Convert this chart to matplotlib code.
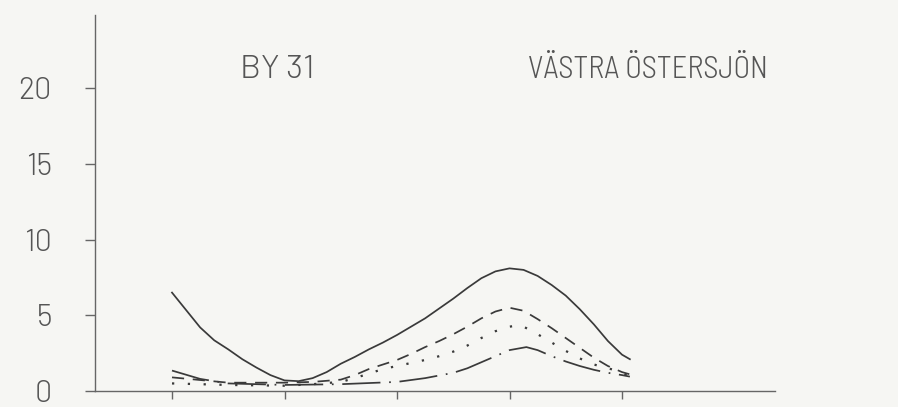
import matplotlib
matplotlib.use("Agg")
import matplotlib.pyplot as plt

# Data (x in tick units; tick marks at 0..4)
solid_x = [0, 0.125, 0.25, 0.375, 0.5, 0.625, 0.75, 0.875, 1.0, 1.125, 1.25, 1.375, 1.5, 1.625,
           1.75, 1.875, 2.0, 2.125, 2.25, 2.375, 2.5, 2.625, 2.75, 2.875, 3.0, 3.125, 3.25,
           3.375, 3.5, 3.625, 3.75, 3.875, 4.0, 4.07]
solid_y = [6.5, 5.35, 4.2, 3.35, 2.75, 2.1, 1.55, 1.05, 0.7, 0.65, 0.85, 1.25, 1.8, 2.25,
           2.75, 3.2, 3.7, 4.25, 4.8, 5.45, 6.1, 6.8, 7.45, 7.9, 8.1, 8.0, 7.6,
           7.0, 6.3, 5.4, 4.4, 3.3, 2.4, 2.1]

dashed_x = [0, 0.5, 1.0, 1.25, 1.5, 1.625, 1.75, 1.875, 2.0, 2.125, 2.25, 2.375, 2.5, 2.625,
            2.75, 2.875, 3.0, 3.125, 3.25, 3.375, 3.5, 3.625, 3.75, 3.875, 4.0, 4.07]
dashed_y = [0.9, 0.55, 0.55, 0.6, 0.75, 1.05, 1.45, 1.75, 2.05, 2.45, 2.9, 3.3, 3.75, 4.25,
            4.8, 5.25, 5.5, 5.3, 4.75, 4.15, 3.5, 2.85, 2.2, 1.65, 1.25, 1.1]

dotted_x = [0, 0.5, 1.0, 1.25, 1.5, 1.625, 1.75, 1.875, 2.0, 2.125, 2.25, 2.375, 2.5, 2.625,
            2.75, 2.875, 3.0, 3.1, 3.25, 3.375, 3.5, 3.625, 3.75, 3.875, 4.0, 4.07]
dotted_y = [0.5, 0.4, 0.35, 0.45, 0.6, 0.85, 1.15, 1.45, 1.65, 1.85, 2.05, 2.3, 2.6, 3.0,
            3.5, 3.95, 4.25, 4.35, 3.75, 3.2, 2.65, 2.15, 1.75, 1.5, 1.25, 0.9]

dashdot_x = [0, 0.25, 0.5, 1.0, 1.5, 2.0, 2.25, 2.5, 2.625, 2.75, 2.875, 3.0, 3.15, 3.25,
             3.375, 3.5, 3.625, 3.75, 3.875, 4.0, 4.07]
dashdot_y = [1.35, 0.8, 0.5, 0.4, 0.45, 0.6, 0.85, 1.2, 1.5, 1.9, 2.3, 2.7, 2.9, 2.7,
             2.3, 1.95, 1.65, 1.4, 1.2, 1.05, 0.95]

xticks = [0, 1, 2, 3, 4]
yticks = [0, 5, 10, 15, 20]
ylabels = ["0", "5", "10", "15", "20"]
label_left = "BY 31"
label_right = "VÄSTRA ÖSTERSJÖN"

bg = "#f6f6f3"
ink = "#3a3a3a"
txt = "#555555"
fam = ["Barlow", "DejaVu Sans"]
fam_c = ["Barlow Semi Condensed", "Barlow", "DejaVu Sans"]

fig = plt.figure(figsize=(8.98, 4.07), dpi=100, facecolor=bg)
ax = fig.add_axes([95/898, 1-391/407, (775-95)/898, (391-15)/407])
ax.set_facecolor(bg)

lw = 1.25
ax.plot(solid_x, solid_y, color=ink, lw=lw, linestyle="-")
ax.plot(dashed_x, dashed_y, color=ink, lw=lw, linestyle=(0, (7, 5)))
ax.plot(dotted_x, dotted_y, color=ink, lw=lw*1.3, linestyle=(0, (1, 6)))
ax.plot(dashdot_x, dashdot_y, color=ink, lw=lw, linestyle=(0, (22, 5, 1, 5)))

ax.set_xlim((95-172)/112.5, (775-172)/112.5)
ax.set_ylim(0, (391-15)/15.14)

for s in ["top", "right"]:
    ax.spines[s].set_visible(False)
for s in ["left", "bottom"]:
    ax.spines[s].set_color("#666666")
    ax.spines[s].set_linewidth(1.0)

ax.set_xticks(xticks)
ax.set_xticklabels([])
ax.tick_params(axis="x", direction="out", length=6, width=1.0, color="#666666")
ax.set_yticks(yticks)
ax.set_yticklabels(ylabels)
ax.tick_params(axis="y", direction="out", length=7, width=1.0, color="#666666",
               pad=24, labelsize=22, labelcolor=txt)
for t in ax.get_yticklabels():
    t.set_family(fam)
    t.set_fontweight(300)

fig.text(240/898, 1-70/407, label_left, fontsize=24, color=txt, family=fam,
         fontweight=300, va="center", ha="left")
fig.text(528/898, 1-70/407, label_right, fontsize=22, color=txt, family=fam_c,
         fontweight=300, va="center", ha="left")

fig.savefig("out.png", dpi=100, facecolor=bg)
